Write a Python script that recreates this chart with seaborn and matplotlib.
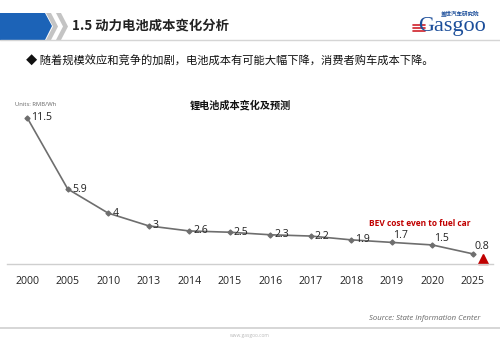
import matplotlib
matplotlib.use("Agg")
import matplotlib.pyplot as plt
from matplotlib.patches import Polygon
from matplotlib.lines import Line2D
import seaborn as sns
import pandas as pd

# ---- data ----
years = ["2000", "2005", "2010", "2013", "2014", "2015", "2016", "2017", "2018", "2019", "2020", "2025"]
cost = [11.5, 5.9, 4, 3, 2.6, 2.5, 2.3, 2.2, 1.9, 1.7, 1.5, 0.8]
labels = ["11.5", "5.9", "4", "3", "2.6", "2.5", "2.3", "2.2", "1.9", "1.7", "1.5", "0.8"]

header_title = "1.5 动力电池成本变化分析"
bullet_text = "◆ 随着规模效应和竞争的加剧，电池成本有可能大幅下降，消费者购车成本下降。"
chart_title = "锂电池成本变化及预测"
units_text = "Units: RMB/Wh"
note_text = "BEV cost even to fuel car"
source_text = "Source: State Information Center"

df = pd.DataFrame({"year": years, "cost": cost})

sns.set_theme(style="white")
plt.rcParams["font.family"] = ["Open Sans", "Noto Sans CJK SC", "DejaVu Sans"]
CJK = ["Noto Sans CJK SC", "DejaVu Sans"]

W, H = 500, 340
fig = plt.figure(figsize=(W / 100, H / 100), dpi=100)
fig.patch.set_facecolor("white")


def fx(x):
    return x / W


def fy(y):
    return 1 - y / H


# ---- header decoration ----
blue = Polygon([(fx(0), fy(13)), (fx(45), fy(13)), (fx(52), fy(26)), (fx(45), fy(40)), (fx(0), fy(40))],
               closed=True, transform=fig.transFigure, facecolor="#1C63B7", edgecolor="none")
fig.patches.append(blue)
for x0 in (46, 56):
    chev = Polygon([(fx(x0), fy(13)), (fx(x0 + 5), fy(13)), (fx(x0 + 12), fy(26.5)),
                    (fx(x0 + 5), fy(40)), (fx(x0), fy(40)), (fx(x0 + 7), fy(26.5))],
                   closed=True, transform=fig.transFigure, facecolor="#C4C4C4", edgecolor="none")
    fig.patches.append(chev)
fig.lines.append(Line2D([fx(0), fx(500)], [fy(39.5), fy(39.5)], transform=fig.transFigure,
                        color="#D5D5D5", linewidth=1.0))
fig.text(fx(72), fy(26), header_title, family=CJK, fontsize=9.6, fontweight="bold",
         color="#222222", ha="left", va="center")

# logo
fig.text(fx(441), fy(14), "盖世汽车研究院", family=CJK, fontsize=4, fontweight="bold",
         color="#1C4E9A", ha="left", va="center")
fig.text(fx(418), fy(26), "Gasgoo", family=["Liberation Serif", "DejaVu Serif"], fontsize=16,
         color="#1C4E9A", ha="left", va="center")
for yy in (24.5, 27.5, 30.5):
    fig.lines.append(Line2D([fx(413), fx(425)], [fy(yy), fy(yy)], transform=fig.transFigure,
                            color="#D0202A", linewidth=1.2))

# bullet line
fig.text(fx(26), fy(61), bullet_text, family=CJK, fontsize=8.1, color="#111111",
         ha="left", va="center")

# ---- chart ----
ax = fig.add_axes([fx(7), fy(264), (493 - 7) / W, (264 - 111.5) / H])
sns.pointplot(data=df, x="year", y="cost", order=years, color="#6E6E6E",
              markers="D", markersize=2.6, linewidth=1.2, errorbar=None, ax=ax)
ax.set_xlim(-0.5, len(years) - 0.5)
ax.set_ylim(0, 12)
ax.set_xlabel("")
ax.set_ylabel("")
ax.set_yticks([])
for s in ("top", "right", "left"):
    ax.spines[s].set_visible(False)
ax.spines["bottom"].set_color("#CFCFCF")
ax.spines["bottom"].set_linewidth(1.0)
ax.patch.set_alpha(0)
ax.tick_params(axis="x", which="major", length=0, pad=9, labelsize=7.6, labelcolor="#222222")
ax.set_xticks([i - 0.5 for i in range(len(years) + 1)], minor=True)
ax.tick_params(axis="x", which="minor", length=3, direction="in", color="#CFCFCF", width=1)

for i, (v, lab) in enumerate(zip(cost, labels)):
    if i >= len(cost) - 3:
        ax.annotate(lab, (i, v), xytext=(1, 1), textcoords="offset points",
                    ha="left", va="bottom", fontsize=7.6, color="#222222")
    else:
        ax.annotate(lab, (i, v), xytext=(3, 0), textcoords="offset points",
                    ha="left", va="center", fontsize=7.6, color="#222222")

# red triangle marker near last point
ax.plot([len(years) - 1 + 0.25], [0.42], marker="^", markersize=7, color="#C00000",
        linestyle="none", clip_on=False)

# chart texts
fig.text(fx(240), fy(105), chart_title, family=CJK, fontsize=7.3, fontweight="bold",
         color="#111111", ha="center", va="center")
fig.text(fx(15), fy(105), units_text, fontsize=4.2, color="#666666", ha="left", va="center")
fig.text(fx(420), fy(223), note_text, fontsize=6.0, fontweight="bold", color="#C00000",
         ha="center", va="center")
fig.text(fx(480), fy(319), source_text, fontsize=5.6, style="italic", color="#666666",
         ha="right", va="center")

# footer
fig.lines.append(Line2D([fx(0), fx(500)], [fy(327.5), fy(327.5)], transform=fig.transFigure,
                        color="#D0D0D0", linewidth=1.2))
fig.text(fx(250), fy(335), "www.gasgoo.com", fontsize=3.5, color="#BBBBBB", ha="center", va="center")

fig.savefig("out.png", dpi=100, facecolor="white")
